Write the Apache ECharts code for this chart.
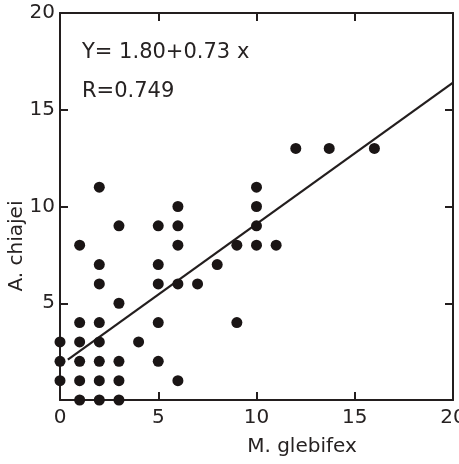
<!DOCTYPE html>
<html>
<head>
<meta charset="utf-8">
<script src="https://cdn.jsdelivr.net/npm/echarts@6/dist/echarts.min.js"></script>
<style>
html,body{margin:0;padding:0;background:#fff;}
#c{width:459px;height:464px;}
</style>
</head>
<body>
<div id="c"></div>
<script>
// M. glebifex (x) and A. chiajei (y) counts
var mGlebifex = [2,3,1,2,2,3,1,2,0,1,2,4,0,1,2,3,5,0,1,2,3,6,1,2,3,5,6,6,6,5,5,6,7,5,12,10,10,10,9,10,11,8,9,13.7,16];
var aChiajei  = [11,9,8,7,6,5,4,4,3,3,3,3,2,2,2,2,2,1,1,1,1,1,0,0,0,9,10,9,8,7,6,6,6,4,13,11,10,9,8,8,8,7,4,13,13];
// regression y = a + b x
var intercept = 1.80;
var slope = 0.73;
var lineFrom = 0.4;
var lineTo = 20;
var xTickLabels = ['0','5','10','15','20'];
var yTickLabels = ['', '5','10','15','20'];
var equationText = 'Y= 1.80+0.73 x';
var rText = 'R=0.749';
var xName = 'M. glebifex';
var yName = 'A. chiajei';

var pts = mGlebifex.map(function(x,i){return [x, aChiajei[i]];});
var fam = 'DejaVu Sans';
var ink = '#231e1e';
var txt = '#262222';
var chart = echarts.init(document.getElementById('c'), null, {renderer:'canvas'});
function axisCommon(){ return {
  type:'value', min:0, max:20, interval:5,
  axisLine:{show:true, onZero:false, lineStyle:{color:ink, width:2}},
  axisTick:{show:true, inside:true, length:8, lineStyle:{color:ink, width:2}},
  splitLine:{show:false}
};}
chart.setOption({
  animation:false,
  backgroundColor:'#fff',
  grid:{left:60, right:6, top:13, bottom:64, outerBoundsMode:'none', containLabel:false},
  xAxis:[
    Object.assign(axisCommon(), {position:'bottom',
      axisLabel:{fontFamily:fam, fontSize:20, color:txt, margin:8,
        formatter:function(v){return xTickLabels[v/5];}}}),
    Object.assign(axisCommon(), {position:'top', axisLabel:{show:false}})
  ],
  yAxis:[
    Object.assign(axisCommon(), {position:'left',
      axisLabel:{fontFamily:fam, fontSize:20, color:txt, margin:5,
        formatter:function(v){return yTickLabels[v/5];}}}),
    Object.assign(axisCommon(), {position:'right', axisLabel:{show:false}})
  ],
  series:[
    {type:'line', data:[[lineFrom, intercept+slope*lineFrom],[lineTo, intercept+slope*lineTo]],
      showSymbol:false, symbol:'none', lineStyle:{color:ink, width:2.2}, z:2},
    {type:'scatter', data:pts, symbol:'circle', symbolSize:11,
      itemStyle:{color:'#1a1515', opacity:1}, z:3}
  ],
  graphic:[
    {type:'text', left:82, top:42, style:{text:equationText, font:'21px "DejaVu Sans"', fill:txt}},
    {type:'text', left:82, top:81, style:{text:rText, font:'21px "DejaVu Sans"', fill:txt}},
    {type:'text', x:302, y:447, style:{text:xName, font:'20px "DejaVu Sans"', fill:txt, align:'center', verticalAlign:'middle'}},
    {type:'text', x:17, y:246, rotation:Math.PI/2, style:{text:yName, font:'20px "DejaVu Sans"', fill:txt, align:'center', verticalAlign:'middle'}}
  ]
});
</script>
</body>
</html>
